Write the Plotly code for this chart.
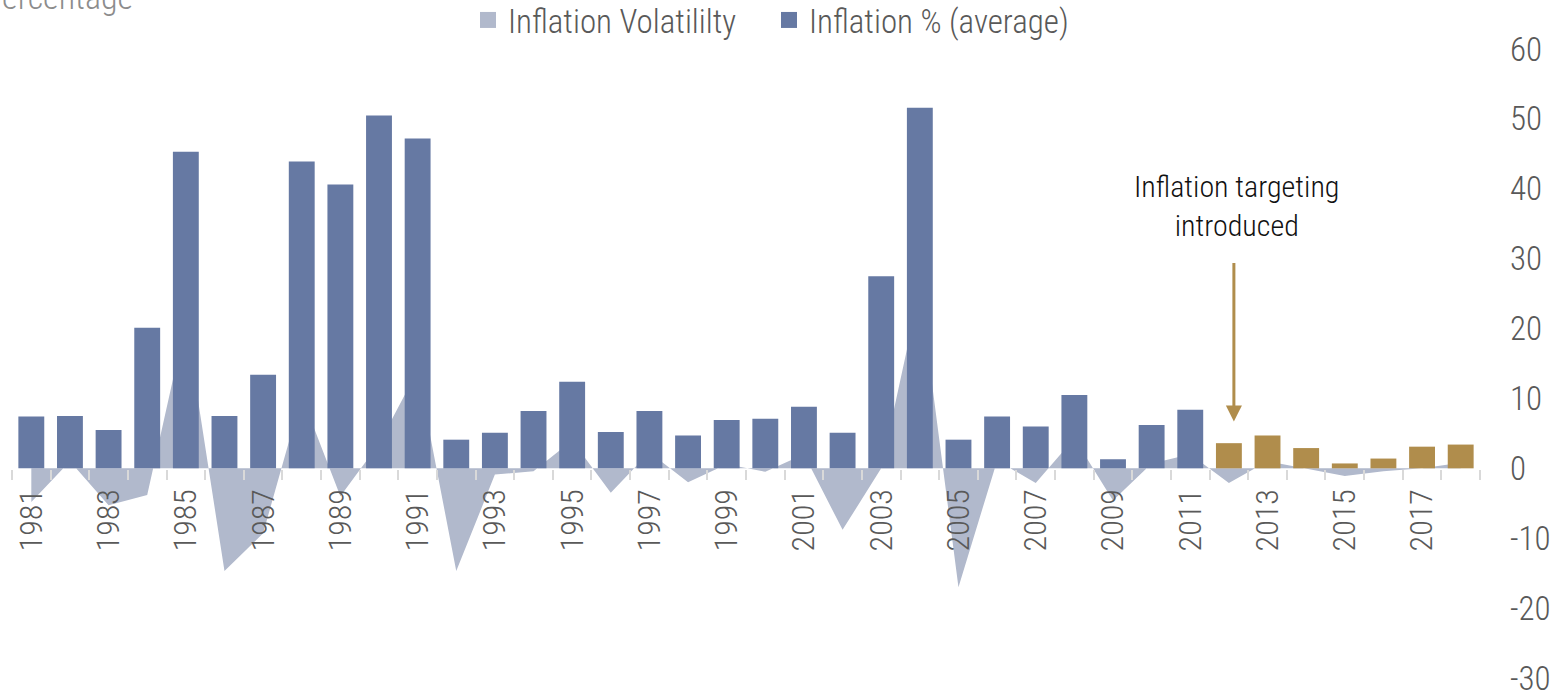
import plotly.graph_objects as go

years = ["1981", "1982", "1983", "1984", "1985", "1986", "1987", "1988", "1989", "1990",
         "1991", "1992", "1993", "1994", "1995", "1996", "1997", "1998", "1999", "2000",
         "2001", "2002", "2003", "2004", "2005", "2006", "2007", "2008", "2009", "2010",
         "2011", "2012", "2013", "2014", "2015", "2016", "2017", "2018"]

inflation_avg = [7.4, 7.5, 5.5, 20.1, 45.3, 7.5, 13.4, 43.9, 40.6, 50.5,
                 47.2, 4.1, 5.1, 8.2, 12.4, 5.2, 8.2, 4.7, 6.9, 7.1,
                 8.8, 5.1, 27.5, 51.6, 4.1, 7.4, 6.0, 10.5, 1.3, 6.2,
                 8.4, 3.6, 4.7, 2.9, 0.7, 1.4, 3.1, 3.4]

volatility = [-4.8, 1.0, -5.3, -3.8, 21.0, -14.7, -9.3, 10.3, -4.0, 3.5,
              14.0, -14.7, -0.9, -0.4, 4.0, -3.5, 2.3, -2.0, 0.6, -0.5,
              2.0, -8.8, 0.0, 25.5, -17.0, 1.1, -2.1, 4.3, -4.6, 0.7,
              2.0, -2.1, 1.0, 0.0, -1.1, -0.4, 0.0, 0.8]

y_ticks = [-30, -20, -10, 0, 10, 20, 30, 40, 50, 60]
y_tick_text = ["-30", "-20", "-10", "0", "10", "20", "30", "40", "50", "60"]
tick_text = [y if int(y) % 2 == 1 else "" for y in years]
targeting_year = "2012"
split = years.index(targeting_year)

BLUE = "#6679a3"
GOLD = "#b08d4c"
AREA = "#b1b9cc"
AXIS_GRAY = "#d9d9d9"
LABEL = "#595959"
FONT = "Roboto Condensed, Liberation Sans Narrow, DejaVu Sans Condensed, Roboto, sans-serif"

fig = go.Figure()

fig.add_trace(go.Scatter(
    x=years, y=volatility, mode="lines", fill="tozeroy",
    line=dict(width=0, color=AREA), fillcolor=AREA,
    showlegend=False, zorder=0, hoverinfo="skip"))

fig.add_trace(go.Bar(
    x=years[:split], y=inflation_avg[:split], marker=dict(color=BLUE, line=dict(width=0)),
    showlegend=False, zorder=1))
fig.add_trace(go.Bar(
    x=years[split:], y=inflation_avg[split:], marker=dict(color=GOLD, line=dict(width=0)),
    showlegend=False, zorder=1))

# legend entries
fig.add_trace(go.Scatter(x=[None], y=[None], mode="markers", name="Inflation Volatililty",
                         marker=dict(symbol="square", size=16, color=AREA)))
fig.add_trace(go.Scatter(x=[None], y=[None], mode="markers", name="Inflation % (average)",
                         marker=dict(symbol="square", size=16, color=BLUE)))

fig.update_layout(
    width=1566, height=691,
    margin=dict(l=12, r=86, t=49, b=13, autoexpand=False),
    paper_bgcolor="white", plot_bgcolor="white",
    barmode="overlay", bargap=0.33,
    font=dict(family=FONT, color=LABEL, size=30, weight=300),
    legend=dict(orientation="h", x=(468 - 12) / 1468, xanchor="left",
                y=1 + (49 - 20) / 629, yanchor="middle",
                entrywidth=256, entrywidthmode="pixels",
                font=dict(size=33, color=LABEL, family=FONT, weight=300),
                itemsizing="trace", bgcolor="rgba(0,0,0,0)"),
    xaxis=dict(type="category", categoryorder="array", categoryarray=years,
               range=[-0.5, len(years) - 0.5],
               tickmode="array", tickvals=years, ticktext=tick_text,
               tickangle=-90, tickson="boundaries",
               ticks="outside", ticklen=10, tickwidth=2, tickcolor=AXIS_GRAY,
               showline=True, linecolor=AXIS_GRAY, linewidth=3,
               showgrid=False, zeroline=False,
               anchor="free", position=1/3,
               tickfont=dict(size=32, color=LABEL, family=FONT, weight=300),
               ticklabelstandoff=6),
    yaxis=dict(range=[-30, 60], side="right", tickmode="array",
               tickvals=y_ticks, ticktext=y_tick_text,
               showgrid=False, zeroline=False, showline=False, ticks="",
               tickfont=dict(size=33, color=LABEL, family=FONT, weight=300),
               ticklabelstandoff=29, ticklabeloverflow="allow"),
)

fig.add_annotation(
    text="Percentage", xref="paper", yref="paper",
    x=(-18 - 12) / 1468, xanchor="left", y=1 + (49 + 3) / 629, yanchor="middle",
    showarrow=False, font=dict(size=34, color="#8c8c8c", family=FONT, weight=300))

fig.add_annotation(
    text="Inflation targeting<br>introduced", xref="x", yref="y",
    x=split, xshift=8, y=37.5, yanchor="middle", showarrow=False,
    font=dict(size=30, color="#111111", family=FONT, weight=300), align="center")

fig.add_annotation(
    text="", xref="x", yref="y", x=split, xshift=5, y=6.7,
    showarrow=True, axref="pixel", ayref="pixel", ax=0, ay=-160,
    arrowhead=2, arrowsize=1.07, arrowwidth=3, arrowcolor=GOLD, standoff=0)

fig.write_html("out.html", config={"displayModeBar": False},
               post_script="document.body.style.margin='0';")
